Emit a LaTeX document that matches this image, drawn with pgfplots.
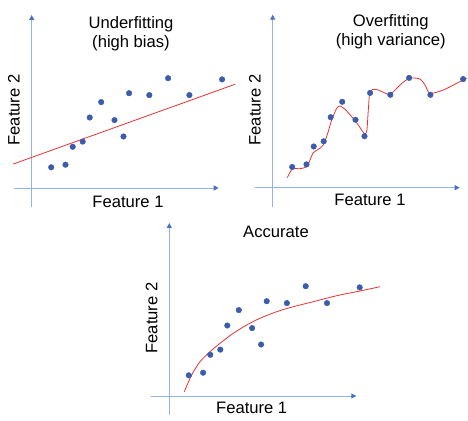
\documentclass[border=0pt]{standalone}
\usepackage{pgfplots}
\pgfplotsset{compat=1.18}
\usepackage{fontspec}
\setmainfont{Liberation Sans}
\usetikzlibrary{arrows.meta}
\definecolor{axline}{RGB}{150,178,225}
\definecolor{axtip}{RGB}{68,114,196}
\definecolor{dotblue}{RGB}{58,92,170}
\definecolor{fitred}{RGB}{232,50,50}
\pgfplotstableread{
x y
19.5 20.7
33.8 23.3
41 41.2
51 46.4
58 70.5
69.5 85.9
82.8 67.9
91.8 51.5
97.4 94.8
117.6 92.9
136.4 109.8
157.7 92.9
190.4 108.6
}\pts
\pgfplotsset{
  panel/.style={
    x=1pt, y=1pt,
    axis lines=middle,
    xmin=-18, xmax=187, ymin=-19, ymax=173,
    xtick=\empty, ytick=\empty,
    axis line style={color=axline, line width=0.9pt, -{Triangle[length=5pt,width=5pt,color=axtip]}},
    clip=false,
    anchor=origin,
  },
  dots/.style={only marks, mark=*, mark size=2.8pt, color=dotblue, mark options={draw=dotblue, fill=dotblue}},
  fit/.style={color=fitred, line width=0.8pt, no marks},
}
\newcommand{\lbl}{\fontsize{16.6}{19}\selectfont}
\begin{document}
\begin{tikzpicture}[x=1pt,y=1pt]
\useasboundingbox (0,0) rectangle (468,420);
% Panel 1: Underfitting
\begin{axis}[panel, at={(31.7pt,232pt)}]
\addplot[fit] coordinates {(-18.4,24) (203.3,103.7)};
\addplot[dots] table {\pts};
\node[font=\lbl, align=center] at (axis cs:99.3,154.5) {Underfitting\\(high bias)};
\node[font=\lbl, rotate=90] at (axis cs:-17.7,78) {Feature 2};
\node[font=\lbl] at (axis cs:96.3,-13.5) {Feature 1};
\end{axis}
% Panel 2: Overfitting
\begin{axis}[panel, at={(272.7pt,232.3pt)}]
\addplot[fit, smooth, tension=0.45] coordinates {
(14.6,10) (19.6,18.7) (27.3,19) (34,21) (37.3,27.7) (40.6,35) (45.6,38.4)
(50.6,42.7) (55,54.4) (59,67.7) (64,79.4) (67.3,81.7) (72.3,78.4) (79,71)
(85.6,62.7) (91.3,54.4) (94,56) (95.6,77.7) (97.3,96) (102.3,98.4) (107.3,97)
(117.3,93.4) (127.3,102.7) (136.6,109.4) (147.3,108.7) (152.3,102.7) (157.3,94.4)
(170.6,97.7) (184,104.4) (194,109.4)};
\addplot[dots] table {\pts};
\node[font=\lbl, align=center] at (axis cs:118,156) {Overfitting\\(high variance)};
\node[font=\lbl, rotate=90] at (axis cs:-17.7,77.7) {Feature 2};
\node[font=\lbl] at (axis cs:97.3,-12.5) {Feature 1};
\end{axis}
% Panel 3: Accurate
\begin{axis}[panel, at={(169.3pt,24pt)}]
\addplot[fit, smooth] coordinates {
(15,4.3) (22.4,21) (30.7,34.3) (40.7,44.3) (50.7,52.7) (64,62.7) (77.4,71)
(90.7,77.7) (107.4,84.3) (124,89.3) (144,94.3) (167.4,100.3) (190.7,105) (210.7,109.3)};
\addplot[dots] table {\pts};
\node[font=\lbl] at (axis cs:106.7,164.3) {Accurate};
\node[font=\lbl, rotate=90] at (axis cs:-17.6,78) {Feature 2};
\node[font=\lbl] at (axis cs:82.4,-12.3) {Feature 1};
\end{axis}
\end{tikzpicture}
\end{document}
